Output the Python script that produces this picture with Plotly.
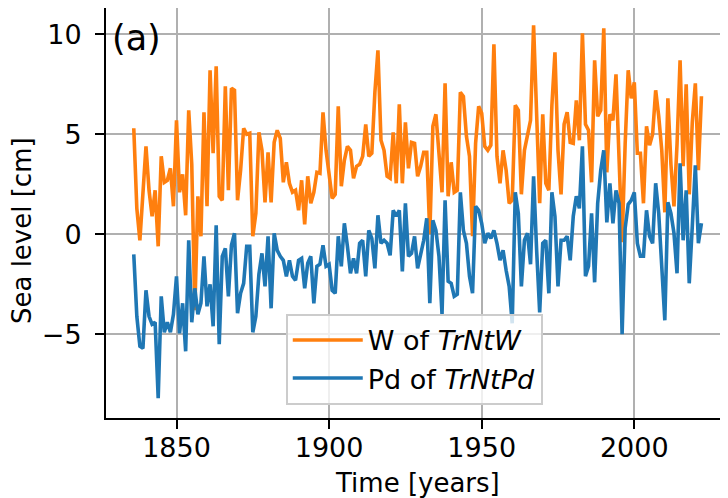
import plotly.graph_objects as go

years = list(range(1836, 2023))

w_trntw = [
    5.3, 1.3, -0.3, 2.0, 4.4, 2.2, 0.9, 2.2, -0.6, 3.9,
    2.6, 2.7, 3.3, 1.4, 5.7, 2.1, 3.0, 0.95, 6.2, 3.5,
    -3.8, 1.9, -0.1, 6.1, 1.4, 8.2, 4.05, 8.4, 1.9, 1.7,
    7.4, 2.2, 7.3, 7.2, 1.7, 3.2, 5.3, 5.0, 5.05, -0.1,
    1.05, 5.1, 4.2, 1.6, 4.1, 1.6, 4.6, 5.2, 4.8, 2.6,
    3.6, 2.55, 2.1, 2.2, 1.2, 2.7, 0.5, 2.9, 1.55, 2.1,
    3.1, 3.05, 6.1, 4.2, 3.0, 1.8, 2.0, 6.4, 2.4, 3.7,
    4.4, 4.2, 2.8, 3.4, 3.5, 3.9, 5.5, 3.9, 4.05, 7.1,
    9.2, 4.7, 4.2, 2.9, 2.8, 5.1, 2.55, 6.5, 2.55, 5.6,
    3.3, 4.6, 4.55, 2.9, 3.4, 4.1, 4.1, 0.0, 5.4, 6.0,
    4.05, 2.1, 7.55, 1.9, 3.6, 2.1, 2.2, 7.1, 6.9, 4.9,
    3.9, -0.1, 4.55, 6.4, 6.05, 4.4, 4.2, 4.45, 9.5, 3.9,
    2.55, 4.2, 3.2, 1.55, 1.7, 6.45, 6.2, 2.0, 4.2, 5.0,
    5.7, 10.45, 5.5, 1.55, 6.0, 2.55, 2.2, 6.45, 9.1, 4.2,
    2.0, 5.5, 6.1, 4.6, 4.55, 6.7, 4.7, 10.05, 5.5, 5.2,
    2.6, 8.7, 5.9, 6.2, 10.3, 3.1, 6.0, 5.7, 8.0, 4.0,
    -0.4, 4.5, 8.2, 6.8, 7.6, 4.05, 4.05, 1.55, 5.4, 4.45,
    5.0, 7.2, 5.9, 4.2, 1.1, 6.8, 3.5, 1.4, 4.5, 8.7,
    3.4, 7.5, 2.0, 5.6, 7.55, 3.2, 6.9,
]

pd_trntpd = [
    -1.0, -4.1, -5.6, -5.7, -2.8, -4.1, -4.5, -4.4, -8.2, -3.1,
    -4.9, -4.4, -4.9, -4.0, -2.1, -4.95, -3.45, -5.85, -0.3, -4.4,
    -2.7, -4.0, -3.45, -1.1, -3.6, -2.5, -4.6, 0.45, -5.5, -1.1,
    -0.7, -3.1, -0.55, 0.05, -3.95, -2.95, -2.45, -0.6, -0.6, -4.9,
    -4.1, -2.0, -0.95, -2.6, -0.1, -3.7, 0.05, -0.8, -1.1, -1.3,
    -2.1, -1.3, -2.1, -2.3, -1.3, -1.2, -2.7, -1.45, -1.1, -3.45,
    -1.6, -1.5, -0.55, -1.6, -1.5, -2.8, -2.95, -0.1, -1.6, 0.55,
    -0.6, -1.95, -1.2, -1.95, -0.45, -0.3, -2.1, 0.2, -0.2, -1.7,
    0.95, -0.45, -0.3, -0.45, -1.05, 1.2, 0.9, 1.2, -1.85, 1.55,
    -1.1, -0.95, -0.1, -1.7, -1.0, -0.3, 0.8, -3.45, 0.7, 0.2,
    -1.1, -4.0, 1.7, -2.35, -2.45, -3.1, -3.0, 2.1, 0.2, -0.45,
    -2.1, -2.95, 1.4, 1.2, 0.55, -0.45, 0.05, -0.2, 0.2, -0.45,
    -1.3, -0.8, -1.8, -2.6, -4.45, 2.1, 1.05, -2.6, -0.3, 0.05,
    -1.5, 2.9, -0.8, -3.9, -0.45, -0.3, -2.95, 2.1, 0.9, -2.6,
    -0.3, -0.3, -0.1, -1.3, 0.9, 1.9, 1.3, 4.4, -2.1, -1.6,
    1.05, -2.4, 1.55, 3.2, 4.2, 0.6, 2.55, 0.55, 2.2, 1.55,
    -5.0, 0.3, 1.5, 1.7, 2.1, -0.45, -1.1, -1.1, 1.2, -0.1,
    -0.45, 2.55, 1.05, -1.45, -4.3, 1.6, 1.05, 0.05, -1.95, 3.55,
    -0.3, 2.2, -2.45, 0.4, 3.45, -0.45, 0.55,
]

x_ticks = [1850, 1900, 1950, 2000]
y_ticks = [-5, 0, 5, 10]

FONT = "DejaVu Sans"

fig = go.Figure()
fig.add_trace(go.Scatter(
    x=years, y=w_trntw, mode="lines", name="W of <i>TrNtW</i>",
    line=dict(color="#ff7f0e", width=3.6),
))
fig.add_trace(go.Scatter(
    x=years, y=pd_trntpd, mode="lines", name="Pd of <i>TrNtPd</i>",
    line=dict(color="#1f77b4", width=3.6),
))

# The page body has an 8px default margin, so the figure is sized 720x490
# to fill the 728x498 window.
fig.update_layout(
    width=720, height=490,
    margin=dict(l=98, r=0, t=0, b=80),
    paper_bgcolor="white", plot_bgcolor="white",
    font=dict(family=FONT, size=26, color="black"),
    showlegend=True,
    legend=dict(
        x=0.289, y=0.032, xanchor="left", yanchor="bottom",
        bgcolor="rgba(255,255,255,0.8)", bordercolor="#cccccc", borderwidth=2,
        font=dict(family=FONT, size=27, color="black"),
        itemwidth=70, tracegroupgap=0,
    ),
    annotations=[
        dict(
            text="(a)", xref="paper", yref="paper", x=0.006, y=0.927,
            xanchor="left", yanchor="middle", showarrow=False,
            font=dict(family=FONT, size=35, color="black"),
        ),
        dict(
            text="Time [years]", xref="paper", yref="paper", x=0.5, y=-0.158,
            xanchor="center", yanchor="middle", showarrow=False,
            font=dict(family=FONT, size=26, color="black"),
        ),
        dict(
            text="Sea level [cm]", xref="paper", yref="paper", x=-0.135, y=0.456,
            xanchor="center", yanchor="middle", showarrow=False, textangle=-90,
            font=dict(family=FONT, size=26, color="black"),
        ),
    ],
)

fig.update_xaxes(
    range=[1826.9, 2030.7], tickvals=x_ticks, automargin=False,
    showgrid=True, gridcolor="#b0b0b0", gridwidth=2,
    showline=True, linecolor="black", linewidth=2, mirror=True,
    ticks="outside", ticklen=9, tickwidth=2, tickcolor="black",
    ticklabelstandoff=-4, tickfont=dict(size=27),
    zeroline=False,
)
fig.update_yaxes(
    range=[-9.185, 11.315], tickvals=y_ticks, automargin=False,
    showgrid=True, gridcolor="#b0b0b0", gridwidth=2,
    showline=True, linecolor="black", linewidth=2, mirror=False,
    ticks="outside", ticklen=9, tickwidth=2, tickcolor="black",
    ticklabelstandoff=8, tickfont=dict(size=27),
    zeroline=False,
)

fig.write_html("out.html")
